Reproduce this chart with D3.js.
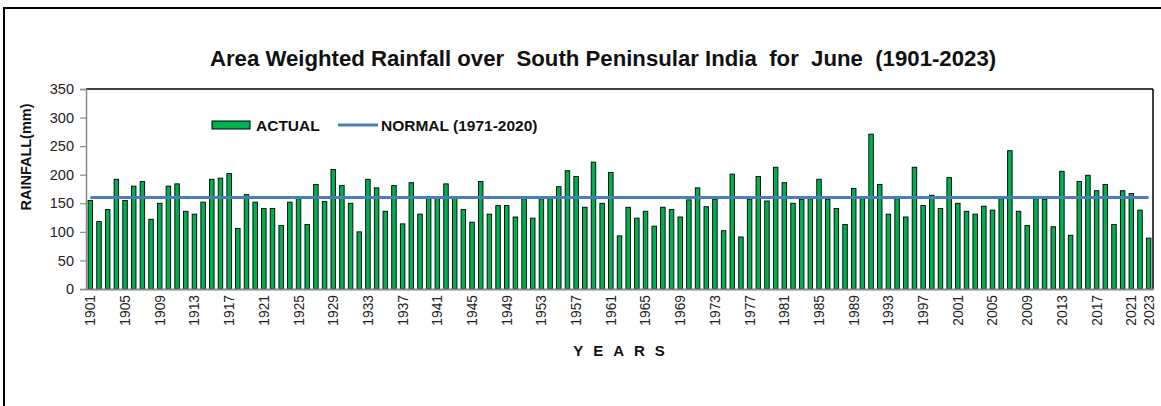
<!DOCTYPE html>
<html><head><meta charset="utf-8">
<script src="https://cdn.jsdelivr.net/npm/d3@7"></script>
<style>
html,body{margin:0;padding:0;background:#fff;}
svg{display:block;font-family:"Liberation Sans",Arial,sans-serif;}
</style></head>
<body>
<script>
const startYear = 1901;
const actual = [
 155,118,139,192,155,180,188,122,150,180,
 184,136,131,152,192,194,202,106,165,152,
 141,141,111,152,158,113,183,153,209,181,
 150,100,192,177,136,181,114,186,131,160,
 160,184,160,139,117,188,131,146,146,126,
 158,124,158,158,179,207,197,143,222,150,
 204,93,143,124,136,110,143,139,126,156,
 177,144,157,102,201,91,157,197,154,213,
 186,150,157,158,192,157,141,113,176,158,
 271,183,131,158,126,213,146,164,141,195,
 150,136,131,145,138,158,242,136,111,158,
 157,109,206,94,188,199,172,183,113,172,
 167,138,89
];
const years = actual.map((_, i) => String(startYear + i));
const normalValue = 160.2;
const yTicks = [0,50,100,150,200,250,300,350];
const xTickLabels = years.filter((y, i) => i % 4 === 0 || i === years.length - 1);
const titleText = "Area Weighted Rainfall over  South Peninsular India  for  June  (1901-2023)";

const W = 1161, H = 406;
const L = 86, R = 1153, T = 89, B = 289;

const svg = d3.select("body").append("svg").attr("width", W).attr("height", H);
svg.append("rect").attr("width", W).attr("height", H).attr("fill", "#fff");
// outer frame
svg.append("rect").attr("x", 4).attr("y", 8).attr("width", 1180).attr("height", 430)
  .attr("fill", "none").attr("stroke", "#000").attr("stroke-width", 2);

const x = d3.scaleBand().domain(years).range([L, R]).paddingInner(0.48).paddingOuter(0.24);
const y = d3.scaleLinear().domain([0, 350]).range([B, T]);

// title
svg.append("text").attr("x", 603).attr("y", 66).attr("text-anchor", "middle")
  .attr("font-size", 22.2).attr("font-weight", "bold").attr("fill", "#111")
  .style("white-space", "pre").text(titleText);

// plot frame (top & right)
svg.append("line").attr("x1", L).attr("x2", R).attr("y1", T).attr("y2", T).attr("stroke", "#000").attr("stroke-width", 1.5);
svg.append("line").attr("x1", R).attr("x2", R).attr("y1", T).attr("y2", B).attr("stroke", "#000").attr("stroke-width", 1.5);

// bars
svg.append("g").selectAll("rect").data(actual).join("rect")
  .attr("x", (d, i) => x(years[i]))
  .attr("y", d => y(d))
  .attr("width", x.bandwidth())
  .attr("height", d => y(0) - y(d))
  .attr("fill", "#00b050").attr("stroke", "#000").attr("stroke-width", 0.9);

// y axis
const yAxis = d3.axisLeft(y).tickValues(yTicks).tickSize(6).tickPadding(6);
const gy = svg.append("g").attr("transform", `translate(${L},0)`).call(yAxis);
gy.select(".domain").attr("stroke", "#888").attr("stroke-width", 1.5);
gy.selectAll(".tick line").attr("stroke", "#888").attr("stroke-width", 1.2);
gy.selectAll(".tick text").attr("font-size", 14.5).attr("fill", "#222")
  .attr("font-family", "Liberation Sans, Arial, sans-serif");

// x axis
const xAxis = d3.axisBottom(x).tickValues(xTickLabels).tickSize(0).tickSizeOuter(0);
const gx = svg.append("g").attr("transform", `translate(0,${B})`).call(xAxis);
gx.select(".domain").attr("stroke", "#888").attr("stroke-width", 2);
gx.selectAll(".tick text").attr("font-size", 13.8).attr("fill", "#222")
  .attr("font-family", "Liberation Sans, Arial, sans-serif")
  .attr("text-anchor", "end").attr("transform", "rotate(-90)")
  .attr("x", -6).attr("y", 0).attr("dy", "0.36em");

// normal line
const line = d3.line().x(d => x(d) + x.bandwidth() / 2).y(() => y(normalValue));
svg.append("path").datum(years).attr("d", line).attr("fill", "none")
  .attr("stroke", "#4a7ebb").attr("stroke-width", 3);

// axis titles
svg.append("text").attr("transform", "translate(31,157) rotate(-90)").attr("text-anchor", "middle")
  .attr("font-size", 14.5).attr("font-weight", "bold").attr("fill", "#111").text("RAINFALL(mm)");
svg.append("text").attr("x", 624).attr("y", 356).attr("text-anchor", "middle")
  .attr("font-size", 15).attr("font-weight", "bold").attr("fill", "#111")
  .attr("letter-spacing", "10px").text("YEARS");

// legend
const lg = svg.append("g");
lg.append("rect").attr("x", 212).attr("y", 121).attr("width", 38).attr("height", 8)
  .attr("fill", "#00b050").attr("stroke", "#000").attr("stroke-width", 1);
lg.append("text").attr("x", 256).attr("y", 131).attr("font-size", 15.5).attr("font-weight", "bold")
  .attr("fill", "#111").text("ACTUAL");
lg.append("line").attr("x1", 338).attr("x2", 378).attr("y1", 125).attr("y2", 125)
  .attr("stroke", "#4a7ebb").attr("stroke-width", 3);
lg.append("text").attr("x", 381).attr("y", 131).attr("font-size", 15.5).attr("font-weight", "bold")
  .attr("fill", "#111").text("NORMAL (1971-2020)");
</script>
</body></html>
